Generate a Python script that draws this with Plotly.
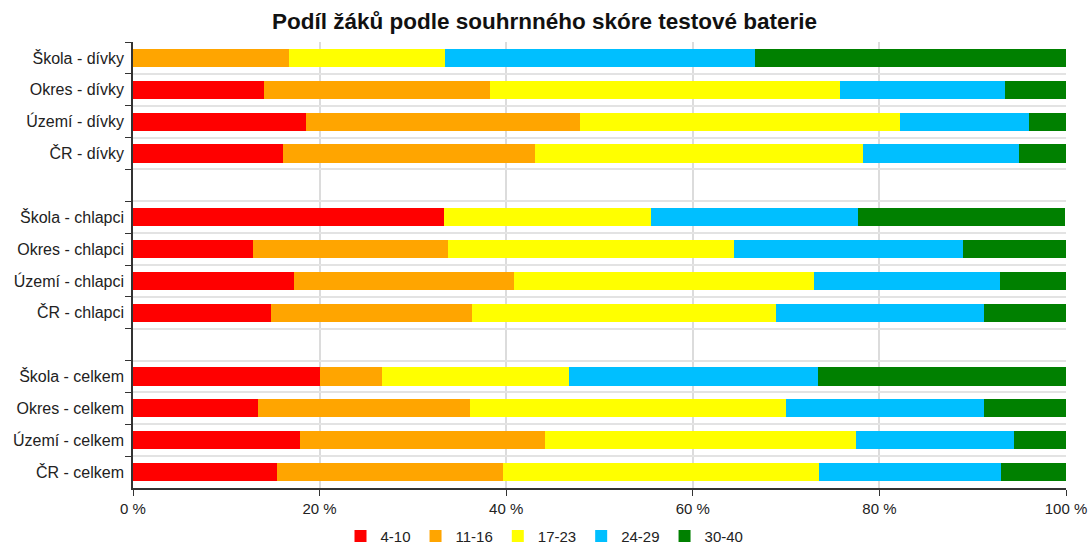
import plotly.graph_objects as go

categories = ["Škola - dívky", "Okres - dívky", "Území - dívky", "ČR - dívky",
              "Škola - chlapci", "Okres - chlapci", "Území - chlapci", "ČR - chlapci",
              "Škola - celkem", "Okres - celkem", "Území - celkem", "ČR - celkem"]
row_order = ["Škola - dívky", "Okres - dívky", "Území - dívky", "ČR - dívky", " ",
             "Škola - chlapci", "Okres - chlapci", "Území - chlapci", "ČR - chlapci", "  ",
             "Škola - celkem", "Okres - celkem", "Území - celkem", "ČR - celkem"]

series_names = ["4-10", "11-16", "17-23", "24-29", "30-40"]
s_4_10 = [0.0, 14.0, 18.5, 16.1, 33.3, 12.9, 17.3, 14.8, 20.0, 13.4, 17.9, 15.4]
s_11_16 = [16.7, 24.3, 29.4, 27.0, 0.0, 20.9, 23.5, 21.5, 6.7, 22.7, 26.3, 24.3]
s_17_23 = [16.7, 37.5, 34.3, 35.1, 22.2, 30.6, 32.2, 32.6, 20.0, 33.9, 33.3, 33.8]
s_24_29 = [33.3, 17.7, 13.8, 16.8, 22.2, 24.6, 19.9, 22.3, 26.7, 21.2, 16.9, 19.5]
s_30_40 = [33.3, 6.5, 4.0, 5.0, 22.2, 11.0, 7.1, 8.8, 26.7, 8.8, 5.6, 7.0]
colors = ["#FF0000", "#FFA500", "#FFFF00", "#00BFFF", "#008000"]

fig = go.Figure()
for name, vals, col in zip(series_names, [s_4_10, s_11_16, s_17_23, s_24_29, s_30_40], colors):
    fig.add_trace(go.Bar(y=categories, x=vals, name=name, orientation="h",
                         marker=dict(color=col, line=dict(width=0))))

fig.update_layout(
    barmode="stack",
    bargap=0.43,
    width=1089, height=545,
    margin=dict(l=133, r=23, t=42, b=57, autoexpand=False),
    paper_bgcolor="white", plot_bgcolor="white",
    font=dict(family="Liberation Sans, Arial, sans-serif", color="#222", size=15),
    title=dict(text="<b>Podíl žáků podle souhrnného skóre testové baterie</b>",
               x=0.5, xref="container", xanchor="center", y=0.962, yanchor="middle",
               font=dict(size=22.5, color="#111")),
    legend=dict(orientation="h", xref="container", x=0.5, xanchor="center",
                yref="container", y=0.016, yanchor="middle",
                font=dict(size=15, color="#222"), traceorder="normal",
                itemwidth=30),
    showlegend=True,
)
fig.update_xaxes(range=[0, 100], dtick=20, ticksuffix=" %", showgrid=True,
                 gridcolor="#dcdcdc", gridwidth=1.5, showline=True, linecolor="#333",
                 linewidth=1.5, ticks="outside", ticklen=6, tickcolor="#333",
                 tickfont=dict(size=15, color="#222"), zeroline=False, fixedrange=True,
                 automargin=False)
fig.update_yaxes(type="category", categoryorder="array", categoryarray=row_order,
                 autorange="reversed", tickson="boundaries", ticks="outside",
                 ticklen=6, tickcolor="#333", showline=True, linecolor="#333",
                 linewidth=1.5, showgrid=True, gridcolor="#e3e3e3", gridwidth=1.5,
                 tickfont=dict(size=16, color="#222"), ticklabelstandoff=4,
                 automargin=False, fixedrange=True)

fig.write_html("out.html", config={"displayModeBar": False},
               post_script="document.body.style.margin='0';document.body.style.padding='0';")
